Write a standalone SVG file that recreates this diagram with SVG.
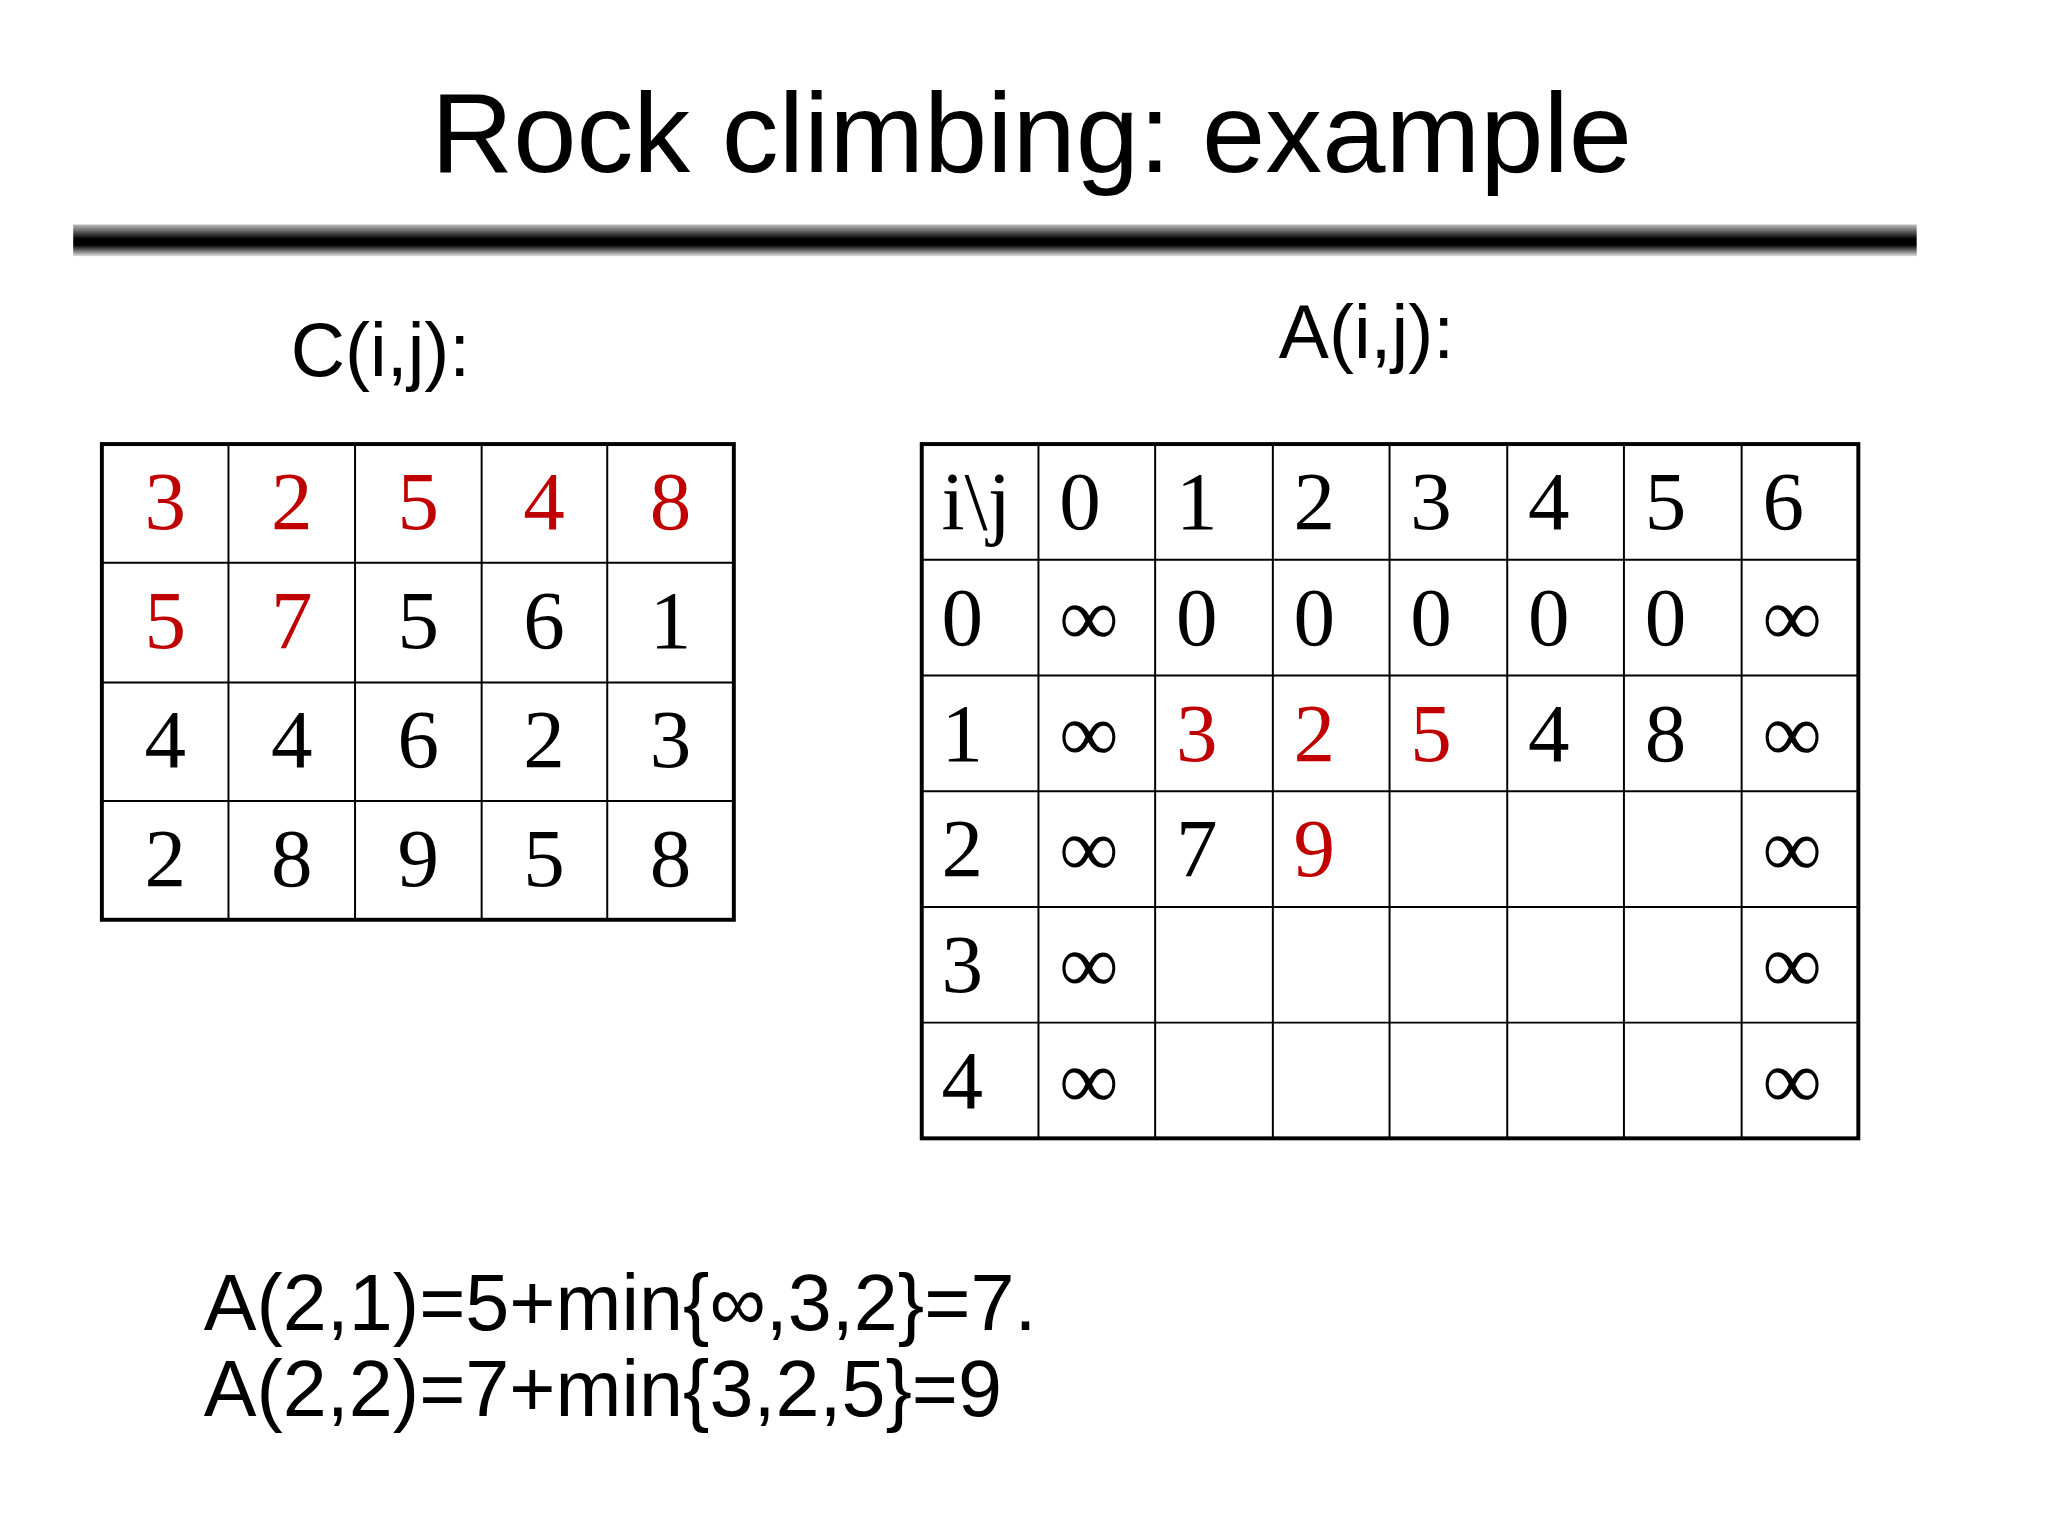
<svg xmlns="http://www.w3.org/2000/svg" width="2048" height="1536" viewBox="0 0 2048 1536">
<style>
.s{font-family:"Liberation Sans",Arial,sans-serif;fill:#000}
.n{font-family:"Liberation Serif","Times New Roman",serif;font-size:84px;fill:#000}
.r{fill:#c00000}
.g{stroke:#000;stroke-width:2;fill:none}
.o{stroke:#000;stroke-width:4;fill:none}
</style>
<defs><linearGradient id="bar" x1="0" y1="0" x2="0" y2="1"><stop offset="0" stop-color="#bbb"/><stop offset="0.45" stop-color="#000"/><stop offset="0.65" stop-color="#000"/><stop offset="1" stop-color="#ddd"/></linearGradient></defs>
<rect width="2048" height="1536" fill="#fff"/>
<g transform="scale(0.989)">
<text class="s" x="1043" y="174" font-size="115" text-anchor="middle">Rock climbing: example</text>
<rect x="74" y="227" width="1864" height="32" fill="url(#bar)"/>
<text class="s" x="294" y="380" font-size="76">C(i,j):</text>
<text class="s" x="1293" y="362" font-size="76">A(i,j):</text>
<g id="tableC">
<rect class="o" x="103" y="449" width="639" height="481"/>
<path class="g" d="M231 449V930M359 449V930M487 449V930M614 449V930M103 569H742M103 690H742M103 810H742"/>
<g class="n" text-anchor="middle">
<text x="167" y="535" class="r">3</text><text x="295" y="535" class="r">2</text><text x="423" y="535" class="r">5</text><text x="550" y="535" class="r">4</text><text x="678" y="535" class="r">8</text>
<text x="167" y="655" class="r">5</text><text x="295" y="655" class="r">7</text><text x="423" y="655">5</text><text x="550" y="655">6</text><text x="678" y="655">1</text>
<text x="167" y="776">4</text><text x="295" y="776">4</text><text x="423" y="776">6</text><text x="550" y="776">2</text><text x="678" y="776">3</text>
<text x="167" y="896">2</text><text x="295" y="896">8</text><text x="423" y="896">9</text><text x="550" y="896">5</text><text x="678" y="896">8</text>
</g>
</g>
<g id="tableA">
<rect class="o" x="932" y="449" width="947" height="702"/>
<path class="g" d="M1050 449V1151M1168 449V1151M1287 449V1151M1405 449V1151M1524 449V1151M1642 449V1151M1761 449V1151M932 566H1879M932 683H1879M932 800H1879M932 917H1879M932 1034H1879"/>
<g class="n">
<text x="952" y="535">i\j</text><text x="1071" y="535">0</text><text x="1189" y="535">1</text><text x="1308" y="535">2</text><text x="1426" y="535">3</text><text x="1545" y="535">4</text><text x="1663" y="535">5</text><text x="1782" y="535">6</text>
<text x="952" y="652">0</text><text x="1071" y="652">∞</text><text x="1189" y="652">0</text><text x="1308" y="652">0</text><text x="1426" y="652">0</text><text x="1545" y="652">0</text><text x="1663" y="652">0</text><text x="1782" y="652">∞</text>
<text x="952" y="769">1</text><text x="1071" y="769">∞</text><text x="1189" y="769" class="r">3</text><text x="1308" y="769" class="r">2</text><text x="1426" y="769" class="r">5</text><text x="1545" y="769">4</text><text x="1663" y="769">8</text><text x="1782" y="769">∞</text>
<text x="952" y="886">2</text><text x="1071" y="886">∞</text><text x="1189" y="886">7</text><text x="1308" y="886" class="r">9</text><text x="1782" y="886">∞</text>
<text x="952" y="1003">3</text><text x="1071" y="1003">∞</text><text x="1782" y="1003">∞</text>
<text x="952" y="1120">4</text><text x="1071" y="1120">∞</text><text x="1782" y="1120">∞</text>
</g>
</g>
<text class="s" x="206" y="1345" font-size="80">A(2,1)=5+min{∞,3,2}=7.</text>
<text class="s" x="206" y="1432" font-size="80">A(2,2)=7+min{3,2,5}=9</text>
</g>
</svg>
